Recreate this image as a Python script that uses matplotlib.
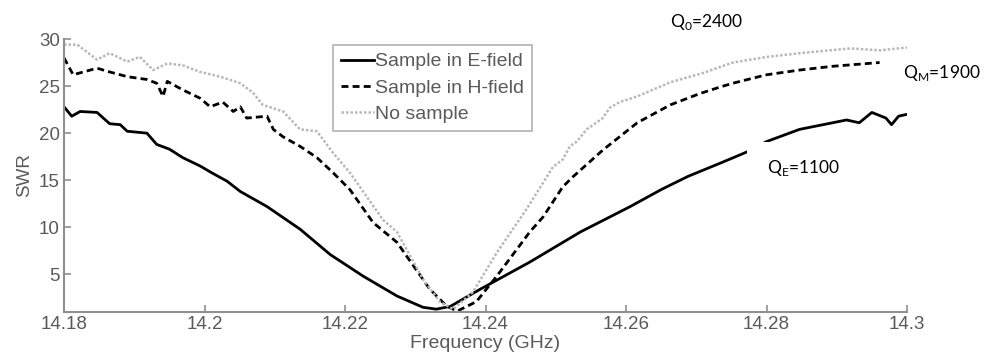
import matplotlib
matplotlib.use("Agg")
import matplotlib.pyplot as plt
from matplotlib.patches import Rectangle

# ---- data ----
e_freq = [14.1800, 14.1811, 14.1823, 14.1847, 14.1865, 14.1880, 14.1890, 14.1918,
          14.1932, 14.1950, 14.1969, 14.1994, 14.2010, 14.2032, 14.2051, 14.2089,
          14.2136, 14.2179, 14.2226, 14.2274, 14.2311, 14.2330, 14.2350, 14.2392,
          14.2463, 14.2535, 14.2606, 14.2650, 14.2688, 14.2737, 14.2772, 14.2800,
          14.2847, 14.2894, 14.2914, 14.2932, 14.2950, 14.2970, 14.2978, 14.2988,
          14.3000]
e_swr = [22.8, 21.8, 22.3, 22.2, 21.0, 20.9, 20.2, 20.0,
         18.8, 18.3, 17.4, 16.5, 15.8, 14.9, 13.8, 12.2,
         9.8, 7.1, 4.8, 2.7, 1.5, 1.3, 1.6, 3.4,
         6.3, 9.5, 12.2, 14.0, 15.4, 16.9, 18.0, 19.1,
         20.4, 21.1, 21.4, 21.1, 22.2, 21.6, 20.9, 21.8,
         22.0]

h_freq = [14.1800, 14.1813, 14.1847, 14.1865, 14.1890, 14.1918, 14.1932, 14.1941,
          14.1947, 14.1969, 14.1994, 14.2008, 14.2026, 14.2041, 14.2051, 14.2060,
          14.2089, 14.2098, 14.2112, 14.2136, 14.2160, 14.2183, 14.2207, 14.2240,
          14.2274, 14.2321, 14.2345, 14.2360, 14.2387, 14.2416, 14.2463, 14.2482,
          14.2510, 14.2525, 14.2567, 14.2616, 14.2663, 14.2705, 14.2734, 14.2752,
          14.2800, 14.2847, 14.2894, 14.2961]
h_swr = [28.0, 26.2, 26.9, 26.5, 26.0, 25.7, 25.3, 23.9,
         25.5, 24.6, 23.7, 22.8, 23.3, 22.3, 22.8, 21.6,
         21.8, 20.4, 19.6, 18.6, 17.4, 15.8, 14.0, 10.5,
         8.4, 3.4, 1.6, 1.1, 2.1, 4.8, 9.5, 11.1,
         14.3, 15.4, 18.2, 21.1, 23.0, 24.2, 24.9, 25.3,
         26.2, 26.7, 27.1, 27.5]

n_freq = [14.1800, 14.1819, 14.1847, 14.1865, 14.1890, 14.1908, 14.1927, 14.1947,
          14.1969, 14.1994, 14.2022, 14.2051, 14.2069, 14.2083, 14.2112, 14.2136,
          14.2160, 14.2183, 14.2207, 14.2254, 14.2274, 14.2311, 14.2335, 14.2354,
          14.2382, 14.2416, 14.2459, 14.2496, 14.2510, 14.2520, 14.2530, 14.2544,
          14.2567, 14.2577, 14.2591, 14.2616, 14.2663, 14.2710, 14.2752, 14.2801,
          14.2848, 14.2919, 14.2962, 14.3000]
n_swr = [29.4, 29.4, 27.8, 28.5, 27.6, 28.1, 26.7, 27.4,
         27.2, 26.5, 26.0, 25.3, 24.3, 23.0, 22.3, 20.4,
         20.2, 17.9, 15.8, 10.8, 9.5, 4.5, 2.1, 1.3,
         3.1, 7.3, 12.0, 16.4, 17.2, 18.6, 19.1, 20.4,
         21.6, 22.7, 23.3, 23.9, 25.4, 26.4, 27.5, 28.1,
         28.5, 29.0, 28.8, 29.1]

series_labels = ["Sample in E-field", "Sample in H-field", "No sample"]
x_ticks = [14.18, 14.2, 14.22, 14.24, 14.26, 14.28, 14.3]
x_tick_labels = ["14.18", "14.2", "14.22", "14.24", "14.26", "14.28", "14.3"]
y_ticks = [5, 10, 15, 20, 25, 30]
q_labels = [r"Q$_\mathregular{0}$=2400", r"Q$_\mathregular{M}$=1900", r"Q$_\mathregular{E}$=1100"]

plt.rcParams['font.family'] = ['Liberation Sans', 'DejaVu Sans']

W, H = 985, 358
fig = plt.figure(figsize=(W / 100, H / 100), dpi=100)
ax = fig.add_axes([64 / W, 1 - 312 / H, (907 - 64) / W, (312 - 39) / H])

grey_txt = '#5a5a5a'
grey_ax = '#909090'

ax.plot(e_freq, e_swr, color='black', lw=2.0, label=series_labels[0])
ax.plot(h_freq, h_swr, color='black', lw=2.0, ls=(0, (2.5, 1.5)), label=series_labels[1])
ax.plot(n_freq, n_swr, color='#b8b8b8', lw=1.8, ls=(0, (1, 0.8)), label=series_labels[2])

ax.set_xlim(14.18, 14.3)
ax.set_ylim(1, 30)
ax.set_xticks(x_ticks)
ax.set_xticklabels(x_tick_labels)
ax.set_yticks(y_ticks)

for s in ['top', 'right']:
    ax.spines[s].set_visible(False)
for s in ['left', 'bottom']:
    ax.spines[s].set_color(grey_ax)
    ax.spines[s].set_linewidth(1.5)
ax.tick_params(direction='in', length=5, width=1.2, color=grey_ax,
               labelcolor=grey_txt, labelsize=13.5, pad=3)

ax.set_xlabel("Frequency (GHz)", fontsize=14, color=grey_txt, labelpad=1)
ax.set_ylabel("SWR", fontsize=13.5, color=grey_txt, labelpad=4)

leg = ax.legend(loc='upper left', bbox_to_anchor=(0.319, 0.978), fontsize=14,
                frameon=True, fancybox=False, handlelength=1.7, handletextpad=0.05,
                borderpad=0.4, labelspacing=0.45, borderaxespad=0)
leg.get_frame().set_edgecolor('#a0a0a0')
leg.get_frame().set_linewidth(1.2)
for t in leg.get_texts():
    t.set_color(grey_txt)

# white masks as in the reference
fig.patches.append(Rectangle((882 / W, 1 - 105 / H), 103 / W, 52 / H,
                             transform=fig.transFigure, facecolor='white',
                             edgecolor='none', zorder=2))
fig.patches.append(Rectangle((747 / W, 1 - 200 / H), 238 / W, 58 / H,
                             transform=fig.transFigure, facecolor='white',
                             edgecolor='none', zorder=2))

qfont = ['Lato', 'DejaVu Sans']
fig.text(670 / W, 1 - 22 / H, q_labels[0], fontsize=12.5, family=qfont, va='center', zorder=3)
fig.text(903 / W, 1 - 73 / H, q_labels[1], fontsize=12.5, family=qfont, va='center', zorder=3)
fig.text(767 / W, 1 - 168 / H, q_labels[2], fontsize=12.5, family=qfont, va='center', zorder=3)

fig.savefig("out.png", dpi=100)
